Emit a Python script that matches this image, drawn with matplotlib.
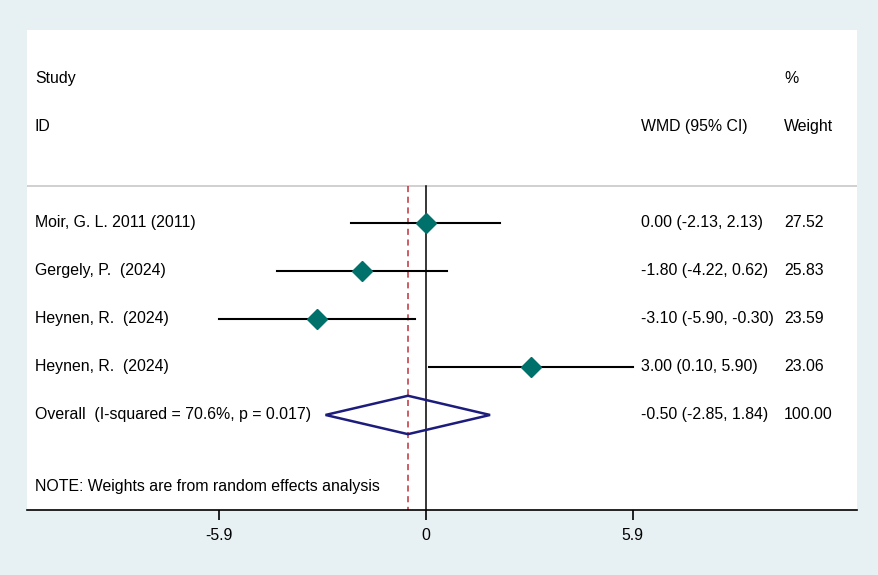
import matplotlib.pyplot as plt
from matplotlib.patches import Polygon
import matplotlib.transforms as mtransforms

plt.rcParams['font.family'] = ['Liberation Sans', 'DejaVu Sans']

# dados do forest plot
estudos = ['Moir, G. L. 2011 (2011)', 'Gergely, P.  (2024)', 'Heynen, R.  (2024)', 'Heynen, R.  (2024)']
wmd = [0.00, -1.80, -3.10, 3.00]
ci_low = [-2.13, -4.22, -5.90, 0.10]
ci_high = [2.13, 0.62, -0.30, 5.90]
pesos = ['27.52', '25.83', '23.59', '23.06']

overall_label = 'Overall  (I-squared = 70.6%, p = 0.017)'
overall_wmd = -0.50
overall_low = -2.85
overall_high = 1.84
overall_peso = '100.00'

ticks = [-5.9, 0, 5.9]
tick_labels = ['-5.9', '0', '5.9']

W, H = 879, 575
fig = plt.figure(figsize=(W / 100, H / 100), dpi=100)
fig.patch.set_facecolor('#e7f0f3')

# area branca do grafico (em pixels)
left, right, top, bottom = 27, 857, 30, 510
ax = fig.add_axes([left / W, 1 - bottom / H, (right - left) / W, (bottom - top) / H])
ax.set_facecolor('white')

escala = 207 / 5.9
x0 = 425.5
ax.set_xlim((left - x0) / escala, (right - x0) / escala)
ax.set_ylim(5.98, -4.02)

for s in ['top', 'right', 'left']:
    ax.spines[s].set_visible(False)
ax.spines['bottom'].set_linewidth(1.2)
ax.set_yticks([])
ax.set_xticks(ticks)
fs = 11.4
ax.set_xticklabels(tick_labels, fontsize=fs)
ax.tick_params(axis='x', length=7, width=1.2, pad=6)

trans = mtransforms.blended_transform_factory(ax.transAxes, ax.transData)
col_txt = (35 - left) / (right - left)
col_wmd = (641 - left) / (right - left)
col_peso = (784 - left) / (right - left)

# cabecalho
ax.text(col_txt, -3, 'Study', transform=trans, va='center', fontsize=fs)
ax.text(col_txt, -2, 'ID', transform=trans, va='center', fontsize=fs)
ax.text(col_peso, -3, '%', transform=trans, va='center', fontsize=fs)
ax.text(col_wmd, -2, 'WMD (95% CI)', transform=trans, va='center', fontsize=fs)
ax.text(col_peso, -2, 'Weight', transform=trans, va='center', fontsize=fs)
ax.axhline(-0.77, color='#c8c8c8', linewidth=1.2)

# linhas verticais
ax.plot([0, 0], [-0.77, 5.98], color='black', linewidth=1.1)
ax.plot([overall_wmd, overall_wmd], [-0.77, 5.98], color='#c0303a', linewidth=1.1, linestyle=(0, (4, 3)))

# estudos
for i in range(len(estudos)):
    ax.plot([ci_low[i], ci_high[i]], [i, i], color='black', linewidth=1.5)
    ax.plot(wmd[i], i, marker='D', color='#00706a', markersize=10, zorder=5)
    ax.text(col_txt, i, estudos[i], transform=trans, va='center', fontsize=fs)
    ax.text(col_wmd, i, '%.2f (%.2f, %.2f)' % (wmd[i], ci_low[i], ci_high[i]),
            transform=trans, va='center', fontsize=fs)
    ax.text(col_peso, i, pesos[i], transform=trans, va='center', fontsize=fs)

# efeito global
yo = len(estudos)
diamante = Polygon([[overall_low, yo], [overall_wmd, yo - 0.4], [overall_high, yo], [overall_wmd, yo + 0.4]],
                   closed=True, facecolor='none', edgecolor='#1c1c7c', linewidth=1.8, zorder=4)
ax.add_patch(diamante)
ax.text(col_txt, yo, overall_label, transform=trans, va='center', fontsize=fs)
ax.text(col_wmd, yo, '%.2f (%.2f, %.2f)' % (overall_wmd, overall_low, overall_high),
        transform=trans, va='center', fontsize=fs)
ax.text(col_peso, yo, overall_peso, transform=trans, va='center', fontsize=fs)

ax.text(col_txt, 5.5, 'NOTE: Weights are from random effects analysis', transform=trans, va='center', fontsize=fs)

fig.savefig('out.png', dpi=100, facecolor=fig.get_facecolor())
